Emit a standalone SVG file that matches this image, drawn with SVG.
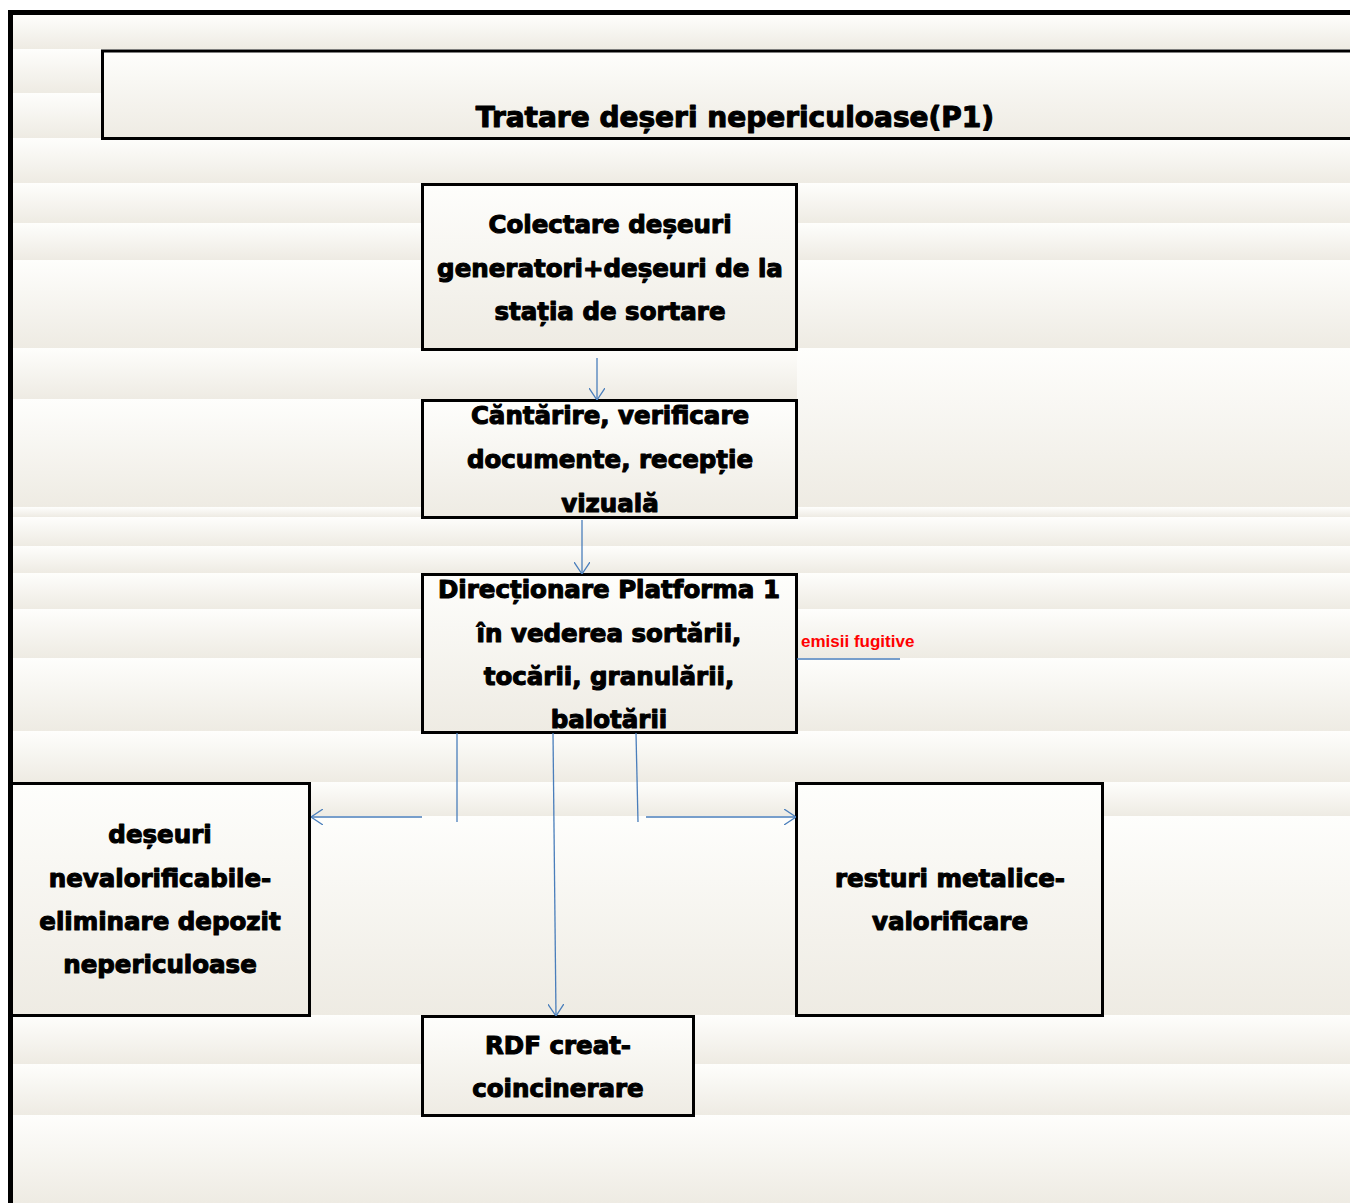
<svg xmlns="http://www.w3.org/2000/svg" width="1350" height="1203" viewBox="0 0 1350 1203">
<defs>
<linearGradient id="bg" x1="0" y1="0" x2="0" y2="1">
<stop offset="0" stop-color="#fefefc"/>
<stop offset="1" stop-color="#eeebe3"/>
</linearGradient>
<marker id="arr" viewBox="0 0 12 16" refX="12" refY="8" markerWidth="12" markerHeight="16" markerUnits="userSpaceOnUse" orient="auto">
<path d="M0,0 L12,8 L0,16" fill="none" stroke="#4a7ebb" stroke-width="1.3"/>
</marker>
</defs>
<style>
.st{fill:url(#bg)}
.box{fill:url(#bg);stroke:#000;stroke-width:3}
.t{font-family:"DejaVu Sans","Liberation Sans",sans-serif;font-weight:bold;font-size:24.5px;fill:#000;stroke:#000;stroke-width:1.1;stroke-linejoin:round;text-anchor:middle}
.c{fill:none;stroke:#4a7ebb;stroke-width:1.3}
.red{font-family:"Liberation Sans",Arial,sans-serif;font-weight:bold;font-size:17px;fill:#ff0000}
</style>
<rect x="0" y="0" width="1350" height="1203" fill="#ffffff"/>
<g id="background">
<rect class="st" x="13" y="15" width="1337" height="34"/>
<rect class="st" x="13" y="49" width="1337" height="44"/>
<rect class="st" x="13" y="93" width="1337" height="45"/>
<rect class="st" x="13" y="138" width="1337" height="45"/>
<rect class="st" x="13" y="183" width="1337" height="40"/>
<rect class="st" x="13" y="223" width="1337" height="37"/>
<rect class="st" x="13" y="260" width="1337" height="88"/>
<rect class="st" x="13" y="348" width="784" height="51"/>
<rect class="st" x="13" y="399" width="784" height="108"/>
<rect class="st" x="797" y="348" width="553" height="159"/>
<rect class="st" x="13" y="507" width="1337" height="10"/>
<rect class="st" x="13" y="517" width="1337" height="29"/>
<rect class="st" x="13" y="546" width="1337" height="27"/>
<rect class="st" x="13" y="573" width="1337" height="36"/>
<rect class="st" x="13" y="609" width="1337" height="49"/>
<rect class="st" x="13" y="658" width="1337" height="73"/>
<rect class="st" x="13" y="731" width="1337" height="51"/>
<rect class="st" x="13" y="782" width="1337" height="34"/>
<rect class="st" x="13" y="816" width="1337" height="199"/>
<rect class="st" x="13" y="1015" width="1337" height="49"/>
<rect class="st" x="13" y="1064" width="1337" height="51"/>
<rect class="st" x="13" y="1115" width="1337" height="88"/>
<path d="M10.5,10 L10.5,1203 M8,12.5 L1350,12.5" stroke="#000" stroke-width="5" fill="none"/>
</g>
<g id="title">
<rect class="box" x="102.5" y="51" width="1260" height="87.5"/>
<text class="t" x="735" y="127" style="font-size:28px">Tratare deșeri nepericuloase(P1)</text>
</g>
<g id="n1">
<rect class="box" x="422.5" y="184.5" width="374" height="165"/>
<text class="t" x="610" y="233">Colectare deșeuri</text>
<text class="t" x="610" y="277">generatori+deșeuri de la</text>
<text class="t" x="610" y="320">stația de sortare</text>
</g>
<g id="n2">
<rect class="box" x="422.5" y="400.5" width="374" height="117"/>
<text class="t" x="610" y="424">Căntărire, verificare</text>
<text class="t" x="610" y="468">documente, recepție</text>
<text class="t" x="610" y="512">vizuală</text>
</g>
<g id="n3">
<rect class="box" x="422.5" y="574.5" width="374" height="158"/>
<text class="t" x="609" y="598">Direcționare Platforma 1</text>
<text class="t" x="609" y="642">în vederea sortării,</text>
<text class="t" x="609" y="685">tocării, granulării,</text>
<text class="t" x="609" y="728">balotării</text>
</g>
<g id="n4">
<rect class="box" x="11.5" y="783.5" width="298" height="232"/>
<text class="t" x="160" y="843">deșeuri</text>
<text class="t" x="160" y="887">nevalorificabile-</text>
<text class="t" x="160" y="930">eliminare depozit</text>
<text class="t" x="160" y="973">nepericuloase</text>
</g>
<g id="n5">
<rect class="box" x="796.5" y="783.5" width="306" height="232"/>
<text class="t" x="950" y="887">resturi metalice-</text>
<text class="t" x="950" y="930">valorificare</text>
</g>
<g id="n6">
<rect class="box" x="422.5" y="1016.5" width="271" height="99"/>
<text class="t" x="558" y="1054">RDF creat-</text>
<text class="t" x="558" y="1097">coincinerare</text>
</g>
<g id="connectors">
<path class="c" d="M597,358 L597,400" marker-end="url(#arr)"/>
<path class="c" d="M582,520 L582,574" marker-end="url(#arr)"/>
<path class="c" d="M797,659 L900,659"/>
<path class="c" d="M457,733 L457,822"/>
<path class="c" d="M422,817 L311,817" marker-end="url(#arr)"/>
<path class="c" d="M553,733 L556,1016" marker-end="url(#arr)"/>
<path class="c" d="M636,733 L638,822"/>
<path class="c" d="M646,817 L796,817" marker-end="url(#arr)"/>
<text class="red" x="801" y="647">emisii fugitive</text>
</g>
</svg>
